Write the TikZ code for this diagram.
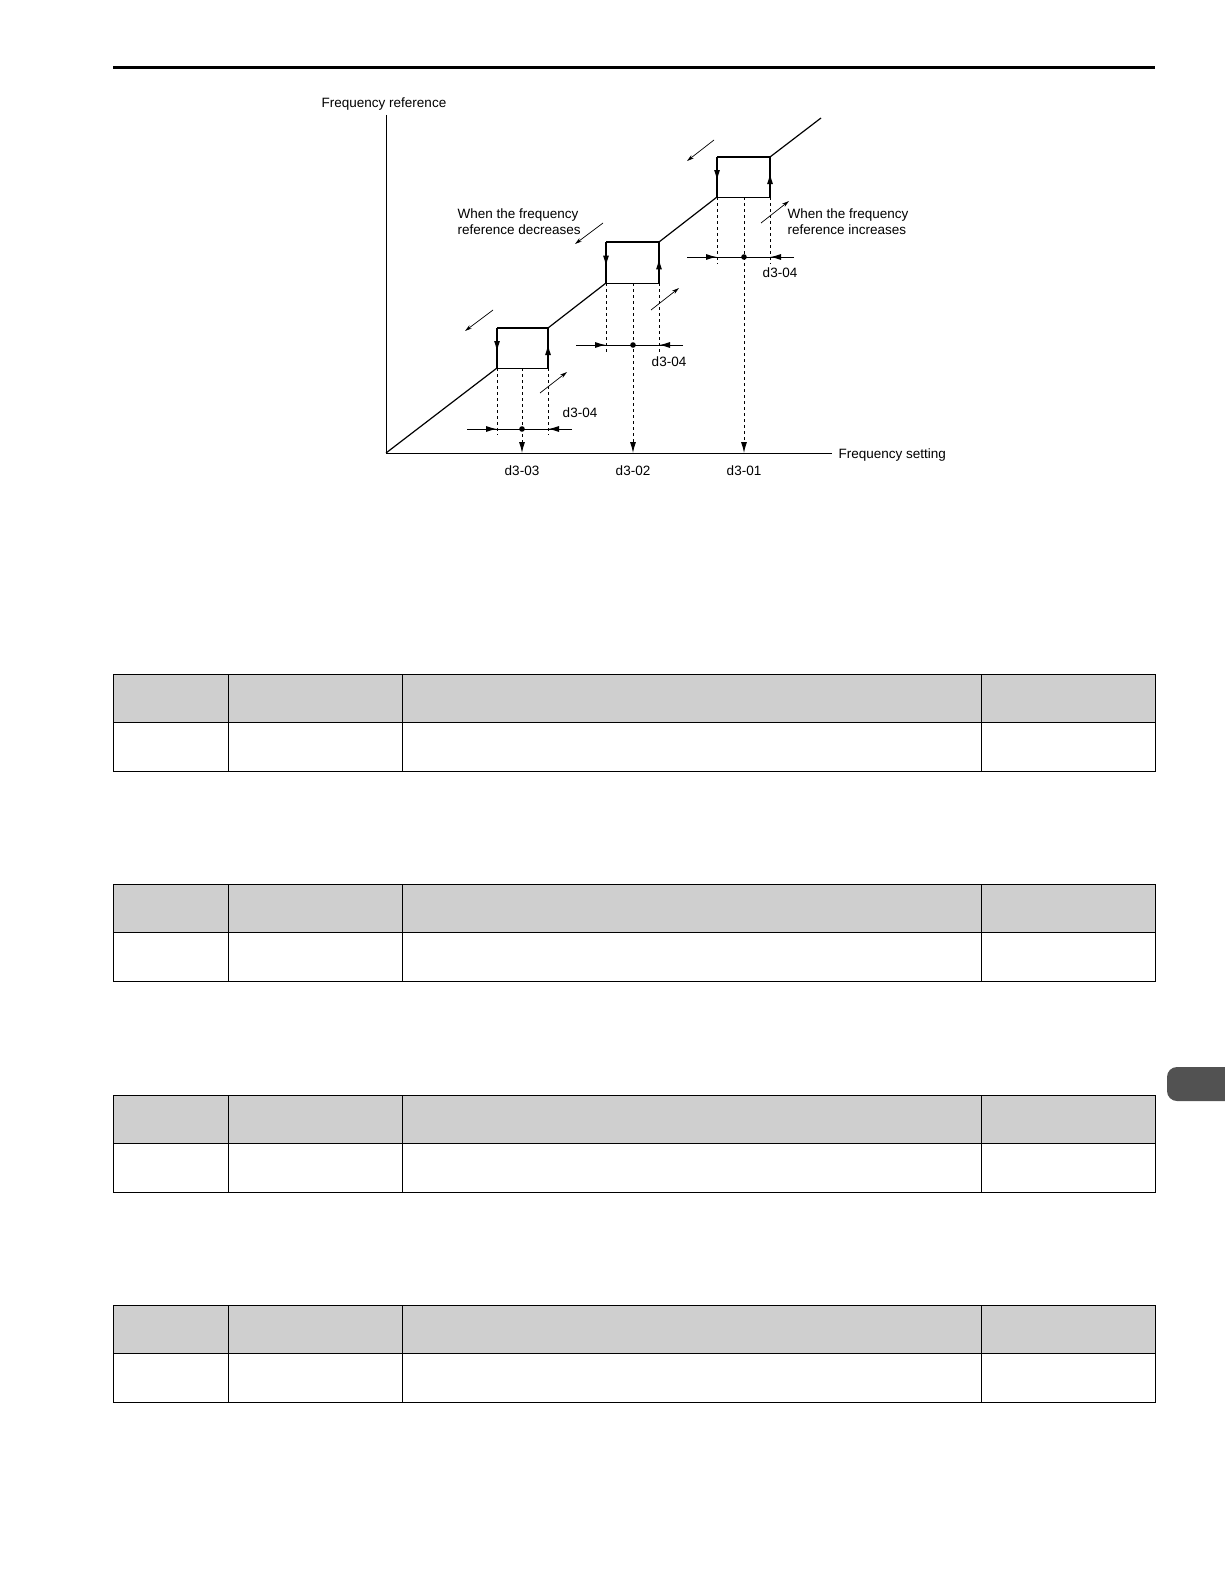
\documentclass[tikz,border=0pt]{standalone}
\usepackage{fontspec}
\setmainfont{Liberation Sans}
\usetikzlibrary{arrows.meta,decorations.markings}
\tikzset{
  lbl/.style={font=\fontsize{13.5}{16}\selectfont, inner sep=0pt},
  hyst/.style={line width=1.3pt},
  dn/.style={postaction={decorate},decoration={markings,
      mark=at position 0.6 with {\arrow{Latex[length=11pt,width=6pt]}}}},
  guide/.style={dashed, line width=0.9pt},
  tip/.style={-{Latex[length=11pt,width=6pt]}},
  small/.style={-{Stealth[length=7pt,width=4pt]}, line width=0.7pt},
  cell/.style={draw, line width=0.8pt}
}
\begin{document}
\begin{tikzpicture}[x=1pt,y=-1pt,line width=1pt]
  \useasboundingbox (0,0) rectangle (1224,1584);
  \draw[line width=3pt] (113,68) -- (1155,68);
  % axes
  \coordinate (o) at (386,453);
  \coordinate (xend) at (832,453);
  \coordinate (ytop) at (386,115);
  \draw (ytop) -- (o) -- (xend);
  \node[lbl] (yl) at (384,104) {Frequency reference};
  \node[lbl, anchor=west] (xl) at (838,455) {Frequency setting};
  % hysteresis boxes: name/left/right/top/bottom/centre/label
  \foreach \n/\l/\r/\t/\b/\c/\lab in {a/497/548/328/368/522/d3-03,
           b/606/659/242/283/633/d3-02, c/717/770/157/197/744/d3-01}{
    \coordinate (\n bl) at (\l,\b);
    \coordinate (\n br) at (\r,\b);
    \coordinate (\n tl) at (\l,\t);
    \coordinate (\n tr) at (\r,\t);
    \draw (\n bl) -- (\n br);
    \draw[hyst, dn] (\n tl) -- (\n bl);
    \draw[hyst, dn] (\n br) -- (\n tr);
    \draw[hyst] (\n tl) -- (\n tr);
    \draw[guide, tip] (\c,\b) -- (\c,453);
    \node[lbl] (\n lab) at (\c,471) {\lab};
  }
  \coordinate (top) at (821,118);
  \draw[line width=1.2pt] (o) -- (abl) (atr) -- (bbl) (btr) -- (cbl) (ctr) -- (top);
  % band markers
  \foreach \n/\l/\r/\b/\c/\y/\e/\lx/\ly in {a/497/548/368/522/429/435/580/413,
           b/606/659/283/633/345/352/669/362, c/717/770/197/744/257/264/780/273}{
    \draw[guide] (\l,\b) -- (\l,\e);
    \draw[guide] (\r,\b) -- (\r,\e);
    \fill (\c,\y) circle (2.8pt);
    \draw (\l-30,\y) -- (\r+24,\y);
    \draw[tip] (\l-30,\y) -- (\l,\y);
    \draw[tip] (\r+24,\y) -- (\r,\y);
    \node[lbl] (\n d4) at (\lx,\ly) {d3-04};
  }
  % direction arrows
  \draw[small] (493,310) -- (465,331);
  \draw[small] (540,393) -- (567,372);
  \draw[small] (603,223) -- (575,244);
  \draw[small] (651,310) -- (679,288);
  \draw[small] (714,140) -- (687,161);
  \draw[small] (761,223) -- (789,201);
  \node[lbl, align=left, anchor=north west] (dec) at (457,208)
    {When the frequency\\reference decreases};
  \node[lbl, align=left, anchor=north west] (inc) at (787,208)
    {When the frequency\\reference increases};
  % tables
  \foreach \ty in {674,884,1095,1305}{
    \fill[black!19] (113,\ty) rectangle (1155,\ty+48.5);
    \draw[cell] (113,\ty) rectangle (1155,\ty+97);
    \draw[cell] (113,\ty+48.5) -- (1155,\ty+48.5);
    \foreach \cx in {228,402,981}
      \draw[cell] (\cx,\ty) -- (\cx,\ty+97);
  }
  \fill[black!68, rounded corners=10pt] (1167,1067) rectangle (1240,1101);
\end{tikzpicture}
\end{document}
